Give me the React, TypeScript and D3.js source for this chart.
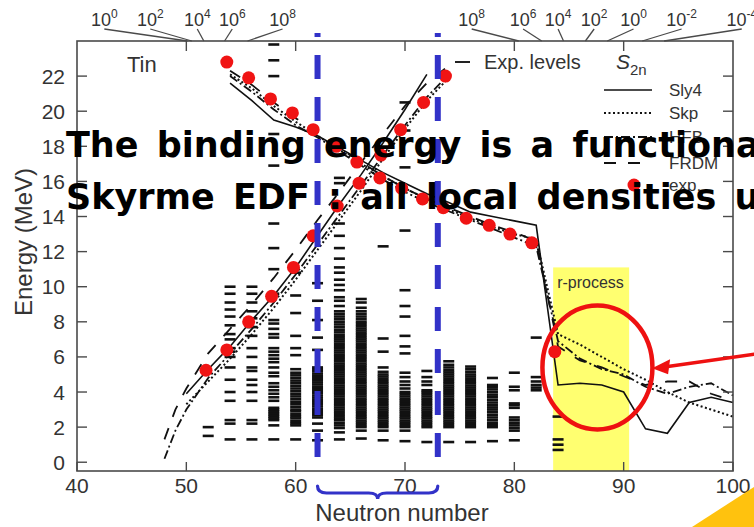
import React from "react";
import * as d3 from "d3";

const W = 754;
const H = 527;

const xTicks = [40, 50, 60, 70, 80, 90, 100];
const yTicks = [0, 2, 4, 6, 8, 10, 12, 14, 16, 18, 20, 22];
const topTicks = [50, 60, 70, 80, 90];

// log scales drawn above the frame (label centre, anchor on the frame, in neutron number)
const leftLogExp = ["0", "2", "4", "6", "8"];
const leftLogLabelN = [42.5, 46.7, 51.0, 54.2, 58.8];
const leftLogAnchorN = [50.1, 50.5, 51.6, 53.5, 55.6];
const rightLogExp = ["8", "6", "4", "2", "0", "-2", "-4"];
const rightLogLabelN = [76.1, 80.8, 84.0, 87.3, 90.9, 95.3, 100.8];
const rightLogAnchorN = [80.4, 82.5, 84.5, 86.5, 88.5, 91.7, 93.7];

// experimental points, falling branch (S2n) and rising branch
const expDownN = [53.7, 55.7, 57.7, 59.7, 61.6, 63.7, 65.6, 67.7, 69.7, 71.6, 73.5, 75.6, 77.7, 79.6, 81.6, 83.7];
const expDownE = [22.8, 21.9, 20.7, 19.9, 18.95, 18.0, 17.1, 16.2, 15.6, 15.0, 14.5, 13.9, 13.5, 13.0, 12.5, 6.3];
const expUpN = [51.8, 53.7, 55.7, 57.8, 59.8, 61.6, 63.8, 65.8, 67.8, 69.6, 71.7, 73.7];
const expUpE = [5.24, 6.4, 8.0, 9.45, 11.1, 12.9, 14.6, 15.9, 17.5, 18.95, 20.5, 22.0];

// model curves, falling branch
const downN = [54, 56, 58, 60, 62, 64, 66, 68, 70, 72, 74, 76, 78, 80, 82, 84, 86, 88, 90, 92, 94, 96, 98, 100];
const sly4Down = [21.6, 20.6, 19.5, 19.1, 18.6, 17.9, 17.2, 16.5, 15.9, 15.3, 14.8, 14.25, 14.0, 13.75, 13.5, 4.4, 4.5, 4.4, 4.0, 1.9, 1.65, 3.4, 3.7, 3.4];
const skpDown = [22.1, 21.3, 20.3, 19.4, 18.6, 17.8, 17.0, 16.3, 15.6, 15.0, 14.4, 13.9, 13.4, 13.0, 12.7, 7.3, 6.7, 6.0, 5.3, 4.7, 4.0, 3.4, 3.0, 2.6];
const hfbDown = [22.0, 21.1, 20.1, 19.2, 18.5, 17.7, 16.9, 16.1, 15.4, 14.8, 14.3, 13.8, 13.3, 12.8, 12.3, 6.9, 5.9, 5.3, 5.0, 4.3, 3.9, 4.3, 4.5, 3.8];
const frdmDown = [22.3, 21.5, 20.5, 19.6, 18.8, 17.9, 17.1, 16.3, 15.6, 15.0, 14.5, 14.0, 13.5, 13.1, 12.6, 6.6, 5.8, 5.4, 4.9, 4.4, 4.6, 4.6, 3.9, 3.5];

// model curves, rising branch
const sly4UpN = [50, 52, 54, 56, 58, 60, 62, 64, 66, 68, 70, 72];
const sly4Up = [3.9, 5.3, 6.6, 8.1, 9.5, 11.1, 12.9, 14.7, 16.4, 18.2, 20.1, 22.1];
const skpUpN = [50, 52, 54, 56, 58, 60, 62, 64, 66, 68, 70, 72, 74];
const skpUp = [3.3, 4.6, 5.9, 7.3, 8.8, 10.4, 12.1, 13.8, 15.5, 17.3, 19.0, 20.6, 21.9];
const modelUpN = [48, 49, 50, 52, 54, 56, 58, 60, 62, 64, 66, 68, 70, 72, 74];
const hfbUp = [0.2, 1.8, 3.0, 4.8, 6.2, 7.6, 9.1, 10.7, 12.4, 14.1, 15.8, 17.5, 19.2, 20.8, 22.1];
const frdmUp = [1.3, 3.0, 4.2, 6.2, 7.6, 9.0, 10.5, 12.1, 13.8, 15.4, 17.1, 18.7, 20.3, 21.6, 22.6];

// experimental levels (MeV) per even neutron number
const levelN = [52, 54, 56, 58, 60, 62, 64, 66, 68, 70, 72, 74, 76, 78, 80, 82, 84];
const levelE = [
  [1.5, 2.0],
  [1.3, 2.2, 2.4, 3.5, 4.0, 4.7, 5.4, 6.0, 6.3, 6.5, 7.0, 7.3, 7.8, 8.3, 8.7, 9.1, 9.6, 10.0],
  [1.3, 2.2, 2.4, 3.5, 4.0, 4.4, 4.7, 5.2, 5.4, 6.0, 6.5, 7.2, 7.7, 8.2, 8.6, 9.1, 9.6, 10.0],
  [1.3, 2.1, 2.4, 2.5, 2.6, 2.7, 2.8, 2.9, 3.0, 3.1, 3.5, 3.7, 3.9, 4.1, 4.3, 4.5, 4.9, 5.1, 5.4, 5.7, 5.9, 6.1, 6.3, 6.5, 7.1, 7.3, 7.6, 7.9, 8.1, 9.6, 11.0, 12.2, 13.6, 16.9, 18.7, 22.0, 22.9, 23.8],
  [1.3, 2.1, 2.22, 2.35, 2.5, 2.62, 2.75, 2.9, 3.0, 3.15, 3.3, 3.45, 3.6, 3.75, 3.9, 4.05, 4.2, 4.35, 4.5, 4.65, 4.8, 4.95, 5.1, 5.3, 6.1, 6.5, 7.2, 8.5, 9.5, 10.8],
  [1.25, 1.8, 2.2, 2.55, 2.68, 2.8, 2.93, 3.05, 3.18, 3.3, 3.43, 3.55, 3.68, 3.8, 3.93, 4.05, 4.18, 4.3, 4.43, 4.55, 4.68, 4.8, 4.93, 5.05, 5.18, 5.3, 5.4, 6.4, 7.1, 8.1, 9.2, 10.2],
  [1.3, 1.7, 1.95, 2.1, 2.25, 2.4, 2.5, 2.62, 2.75, 2.88, 3.0, 3.12, 3.25, 3.37, 3.5, 3.62, 3.75, 3.88, 4.0, 4.12, 4.25, 4.37, 4.5, 4.62, 4.75, 4.88, 5.0, 5.12, 5.25, 5.37, 5.5, 5.62, 5.75, 5.88, 6.0, 6.12, 6.25, 6.37, 6.5, 6.62, 6.75, 6.88, 7.0, 7.12, 7.25, 7.4, 7.55, 7.7, 7.85, 8.0, 8.15, 8.3, 8.45, 8.6, 8.9, 9.2, 9.4, 9.8, 10.1, 10.4, 10.8, 11.1, 11.6, 12.2, 12.9, 13.6, 15.9, 16.2],
  [1.35, 1.8, 2.0, 2.12, 2.25, 2.37, 2.5, 2.62, 2.75, 2.88, 3.0, 3.12, 3.25, 3.37, 3.5, 3.62, 3.75, 3.88, 4.0, 4.12, 4.25, 4.37, 4.5, 4.62, 4.75, 4.88, 5.0, 5.12, 5.25, 5.37, 5.5, 5.62, 5.75, 5.88, 6.0, 6.12, 6.25, 6.37, 6.5, 6.62, 6.75, 6.88, 7.0, 7.12, 7.25, 7.37, 7.5, 7.62, 7.75, 7.88, 8.0, 8.15, 8.3, 8.45, 8.6, 8.8, 9.1, 9.3],
  [1.25, 1.8, 2.0, 2.12, 2.25, 2.37, 2.5, 2.62, 2.75, 2.88, 3.0, 3.12, 3.25, 3.37, 3.5, 3.62, 3.75, 3.88, 4.0, 4.12, 4.25, 4.37, 4.5, 4.62, 4.75, 4.88, 5.0, 5.15, 5.4, 6.3, 7.05, 12.3],
  [1.2, 1.8, 2.0, 2.12, 2.25, 2.37, 2.5, 2.62, 2.75, 2.88, 3.0, 3.12, 3.25, 3.37, 3.5, 3.62, 3.75, 3.88, 4.0, 4.2, 4.4, 4.6, 4.85, 5.1, 6.2, 6.6, 7.2, 8.3, 8.9, 9.8, 13.2, 16.8, 18.9, 20.5],
  [1.15, 2.0, 2.12, 2.25, 2.37, 2.5, 2.62, 2.75, 2.88, 3.0, 3.12, 3.25, 3.37, 3.5, 3.62, 3.75, 3.88, 4.0, 4.1, 4.4, 4.6, 4.85, 5.2],
  [1.15, 2.0, 2.12, 2.25, 2.37, 2.5, 2.62, 2.75, 2.88, 3.0, 3.12, 3.25, 3.37, 3.5, 3.62, 3.75, 3.88, 4.0, 4.12, 4.25, 4.37, 4.5, 4.62, 4.75, 4.88, 5.0, 5.12, 5.25, 5.4, 5.55, 5.75],
  [1.15, 2.0, 2.12, 2.25, 2.37, 2.5, 2.62, 2.75, 2.88, 3.0, 3.12, 3.25, 3.37, 3.5, 3.62, 3.75, 3.88, 4.0, 4.12, 4.25, 4.37, 4.5, 4.62, 4.75, 4.88, 5.0, 5.15, 5.3, 5.45],
  [1.2, 2.0, 2.12, 2.25, 2.4, 2.55, 2.7, 2.85, 3.0, 3.12, 3.25, 3.4, 3.55, 3.7, 3.85, 4.0, 4.15, 4.3, 4.4, 4.8],
  [1.25, 1.8, 1.95, 2.1, 2.25, 2.4, 2.55, 3.1, 3.25, 3.35, 4.1, 4.3, 5.1],
  [4.1, 4.25, 4.4, 4.6, 4.85, 7.1],
  [0.7, 1.0, 1.3, 2.6],
];

// shaded r-process window
const rProcessN = [83.55, 90.5];
const rProcessTop = 11.1;

// blue markers and brace
const markerN = [62, 73];

// legend
const legendNames = ["Sly4", "Skp", "HFB", "FRDM"];
const legendDash = ["none", "2 2.5", "9 3 2 3", "12 12"];
const legendWidth = [1.6, 2, 1.8, 1.8];

const axisColor = "#4a4a4a";
const textColor = "#333";
const fontFamily = "'Liberation Sans', Arial, sans-serif";

export default function App() {
  const x = d3.scaleLinear().domain([40, 100]).range([77, 733]);
  const y = d3.scaleLinear().domain([-0.5, 24]).range([471, 41]);
  const [x0, x1] = x.range();
  const [yb, yt] = y.range();

  const path = (ns: number[], es: number[]) =>
    d3
      .line<number>()
      .x((_, i) => x(ns[i]))
      .y((d) => y(d))(es) || "";

  const curves = [
    { n: downN, e: sly4Down, k: 0 },
    { n: downN, e: skpDown, k: 1 },
    { n: downN, e: hfbDown, k: 2 },
    { n: downN, e: frdmDown, k: 3 },
    { n: sly4UpN, e: sly4Up, k: 0 },
    { n: skpUpN, e: skpUp, k: 1 },
    { n: modelUpN, e: hfbUp, k: 2 },
    { n: modelUpN, e: frdmUp, k: 3 },
  ];

  const bx0 = x(markerN[0]);
  const bx1 = x(markerN[1]);
  const bm = (bx0 + bx1) / 2;
  const brace = `M${bx0},486 Q${bx0},493 ${bx0 + 9},493 L${bm - 9},493 Q${bm},493 ${bm},499 Q${bm},493 ${bm + 9},493 L${bx1 - 9},493 Q${bx1},493 ${bx1},486`;

  const ellCx = x(87.6);
  const ellCy = y(5.4);
  const tipX = x(92.6);
  const tipY = y(5.35);

  const legendX0 = 604;
  const legendX1 = 652;
  const legendY = [90, 113, 137, 163];

  return (
    <svg
      width={W}
      height={H}
      style={{ position: "absolute", left: 0, top: 0, background: "#fff" }}
      fontFamily={fontFamily}
    >
      <rect width={W} height={H} fill="#fff" />

      {/* r-process band */}
      <rect
        x={x(rProcessN[0])}
        y={y(rProcessTop)}
        width={x(rProcessN[1]) - x(rProcessN[0])}
        height={yb - y(rProcessTop)}
        fill="#ffff70"
      />
      <text x={x(rProcessN[0]) + 4} y={y(rProcessTop) + 21} fontSize={16} fill={textColor}>
        r-process
      </text>

      {/* experimental levels */}
      {levelN.map((n, i) =>
        levelE[i].map((e, j) => (
          <line
            key={`${n}-${j}`}
            x1={x(n) - 5.5}
            x2={x(n) + 5.5}
            y1={y(e)}
            y2={y(e)}
            stroke="#111"
            strokeWidth={2.6}
          />
        ))
      )}

      {/* model curves */}
      {curves.map((c, i) => (
        <path
          key={i}
          d={path(c.n, c.e)}
          fill="none"
          stroke="#111"
          strokeWidth={legendWidth[c.k]}
          strokeDasharray={legendDash[c.k]}
        />
      ))}

      {/* experimental points */}
      {expDownN.map((n, i) => (
        <circle key={`d${i}`} cx={x(n)} cy={y(expDownE[i])} r={6.5} fill="#f01414" />
      ))}
      {expUpN.map((n, i) => (
        <circle key={`u${i}`} cx={x(n)} cy={y(expUpE[i])} r={6.5} fill="#f01414" />
      ))}

      {/* frame */}
      <rect x={x0} y={yt} width={x1 - x0} height={yb - yt} fill="none" stroke={axisColor} strokeWidth={1.6} />
      {xTicks.map((t) => (
        <g key={`xt${t}`}>
          <line x1={x(t)} x2={x(t)} y1={yb} y2={yb - 9} stroke={axisColor} strokeWidth={1.4} />
          <text x={x(t)} y={yb + 22} fontSize={21} textAnchor="middle" fill={textColor}>
            {t}
          </text>
        </g>
      ))}
      {topTicks.map((t) => (
        <line key={`tt${t}`} x1={x(t)} x2={x(t)} y1={yt} y2={yt + 10} stroke={axisColor} strokeWidth={1.4} />
      ))}
      {yTicks.map((t) => (
        <g key={`yt${t}`}>
          <line x1={x0} x2={x0 + 10} y1={y(t)} y2={y(t)} stroke={axisColor} strokeWidth={1.4} />
          <line x1={x1} x2={x1 - 10} y1={y(t)} y2={y(t)} stroke={axisColor} strokeWidth={1.4} />
          <text x={65} y={y(t) + 7.5} fontSize={21} textAnchor="end" fill={textColor}>
            {t}
          </text>
        </g>
      ))}

      {/* log scales above the frame */}
      {leftLogExp.map((p, i) => (
        <g key={`ll${i}`}>
          <line x1={x(leftLogLabelN[i])} y1={29} x2={x(leftLogAnchorN[i])} y2={yt} stroke={axisColor} strokeWidth={1.3} />
          <text x={x(leftLogLabelN[i])} y={26} fontSize={18} textAnchor="middle" fill={textColor}>
            10
            <tspan dy={-8} fontSize={12}>
              {p}
            </tspan>
          </text>
        </g>
      ))}
      {rightLogExp.map((p, i) => (
        <g key={`rl${i}`}>
          <line x1={x(rightLogLabelN[i])} y1={29} x2={x(rightLogAnchorN[i])} y2={yt} stroke={axisColor} strokeWidth={1.3} />
          <text x={x(rightLogLabelN[i])} y={26} fontSize={18} textAnchor="middle" fill={textColor}>
            10
            <tspan dy={-8} fontSize={12}>
              {p}
            </tspan>
          </text>
        </g>
      ))}

      {/* axis titles */}
      <text x={402} y={521} fontSize={24} textAnchor="middle" fill={textColor}>
        Neutron number
      </text>
      <text
        transform="translate(32,242) rotate(-90)"
        fontSize={24}
        textAnchor="middle"
        fill={textColor}
      >
        Energy (MeV)
      </text>

      {/* labels and legend */}
      <text x={127} y={72} fontSize={22} fill={textColor}>
        Tin
      </text>
      <line x1={455} x2={470} y1={62} y2={62} stroke="#222" strokeWidth={2} />
      <text x={484} y={69} fontSize={20} fill={textColor}>
        Exp. levels
      </text>
      <text x={616} y={69} fontSize={21} fontStyle="italic" fill={textColor}>
        S
        <tspan dy={6} fontSize={15} fontStyle="normal">
          2n
        </tspan>
      </text>
      {legendNames.map((name, i) => (
        <g key={name}>
          <line
            x1={legendX0}
            x2={legendX1}
            y1={legendY[i]}
            y2={legendY[i]}
            stroke="#111"
            strokeWidth={legendWidth[i]}
            strokeDasharray={legendDash[i]}
          />
          <text x={669} y={legendY[i] + 6} fontSize={17} fill={textColor}>
            {name}
          </text>
        </g>
      ))}
      <circle cx={634} cy={185} r={6.5} fill="#f01414" />
      <text x={669} y={191} fontSize={17} fill={textColor}>
        exp.
      </text>

      {/* blue markers */}
      {markerN.map((n) => (
        <line
          key={`m${n}`}
          x1={x(n)}
          x2={x(n)}
          y1={y(0.3)}
          y2={33}
          stroke="#3232c8"
          strokeWidth={6}
          strokeDasharray="24 18"
        />
      ))}
      <path d={brace} fill="none" stroke="#3232c8" strokeWidth={3.2} strokeLinecap="round" />

      {/* overlaid slide text */}
      <g fontFamily="'DejaVu Sans', sans-serif" fontWeight="bold" fontSize={35} fill="#000" wordSpacing={6}>
        <text x={66} y={157}>
          The binding energy is a functional of
        </text>
        <text x={66} y={209}>
          Skyrme EDF : all local densities used
        </text>
      </g>

      {/* red ellipse and arrow */}
      <ellipse cx={ellCx} cy={ellCy} rx={55} ry={62} fill="none" stroke="#ee1111" strokeWidth={4.5} />
      <line x1={W + 2} y1={354} x2={tipX + 14} y2={tipY - 1.5} stroke="#ee1111" strokeWidth={3.5} />
      <path
        d={`M${tipX},${tipY} L${tipX + 18},${tipY - 9} L${tipX + 16},${tipY + 6} Z`}
        fill="#ee1111"
      />

      {/* corner decoration */}
      <path d={`M692,${H} L${W},487 L${W},${H} Z`} fill="#ffc20e" />
    </svg>
  );
}
